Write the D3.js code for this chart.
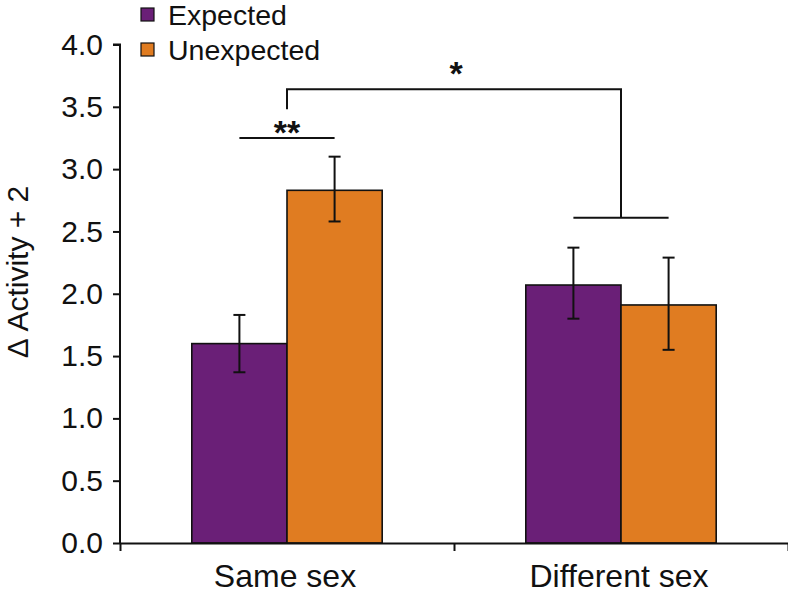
<!DOCTYPE html>
<html>
<head>
<meta charset="utf-8">
<script src="https://cdn.jsdelivr.net/npm/d3@7"></script>
<style>
  html, body { margin: 0; padding: 0; background: #fff; }
  svg { display: block; }
  text { font-family: "Liberation Sans", Arial, Helvetica, sans-serif; fill: #111; }
</style>
</head>
<body>
<svg id="chart" width="788" height="593"></svg>
<script>
// ---- data ----
const categories = ["Same sex", "Different sex"];
const series = ["Expected", "Unexpected"];
const expectedValues = [1.60, 2.07];
const unexpectedValues = [2.83, 1.91];
const expectedErrLow = [1.37, 1.80];
const expectedErrHigh = [1.83, 2.37];
const unexpectedErrLow = [2.58, 1.55];
const unexpectedErrHigh = [3.10, 2.29];
const yTicks = [0, 0.5, 1.0, 1.5, 2.0, 2.5, 3.0, 3.5, 4.0];
const yLabel = "\u0394 Activity + 2";
// significance brackets (data units)
const sigPairLevel = 3.25;     // ** line
const sigGroupLevel = 2.61;    // line over Different sex pair
const sigTopLevel = 3.64;      // * bracket top
const sigTopLeftEnd = 3.48;

const colors = { Expected: "#6a1f77", Unexpected: "#e07c21" };

const svg = d3.select("#chart");
const mLeft = 120, mRight = 788, mTop = 44.5, mBottom = 543;

const y = d3.scaleLinear().domain([0, 4]).range([mBottom, mTop]);
const x0 = d3.scaleBand().domain(categories).range([mLeft, mRight]).padding(0);
const x1 = d3.scaleBand().domain(series)
  .range([x0.bandwidth() * 0.215, x0.bandwidth() * 0.785]).padding(0);

const rows = categories.map((c, i) => ({
  cat: c,
  vals: [
    { s: "Expected", v: expectedValues[i], lo: expectedErrLow[i], hi: expectedErrHigh[i] },
    { s: "Unexpected", v: unexpectedValues[i], lo: unexpectedErrLow[i], hi: unexpectedErrHigh[i] }
  ]
}));

// bars
const g = svg.selectAll("g.grp").data(rows).enter().append("g")
  .attr("transform", d => `translate(${x0(d.cat)},0)`);
g.selectAll("rect").data(d => d.vals).enter().append("rect")
  .attr("x", d => x1(d.s))
  .attr("width", x1.bandwidth())
  .attr("y", d => y(d.v))
  .attr("height", d => y(0) - y(d.v))
  .attr("fill", d => colors[d.s])
  .attr("stroke", "#111")
  .attr("stroke-width", 1.6);

// error bars
const eb = g.selectAll("g.err").data(d => d.vals).enter().append("g")
  .attr("stroke", "#111").attr("stroke-width", 2);
eb.append("line")
  .attr("x1", d => x1(d.s) + x1.bandwidth() / 2)
  .attr("x2", d => x1(d.s) + x1.bandwidth() / 2)
  .attr("y1", d => y(d.lo)).attr("y2", d => y(d.hi));
eb.append("line")
  .attr("x1", d => x1(d.s) + x1.bandwidth() / 2 - 6)
  .attr("x2", d => x1(d.s) + x1.bandwidth() / 2 + 6)
  .attr("y1", d => y(d.hi)).attr("y2", d => y(d.hi));
eb.append("line")
  .attr("x1", d => x1(d.s) + x1.bandwidth() / 2 - 6)
  .attr("x2", d => x1(d.s) + x1.bandwidth() / 2 + 6)
  .attr("y1", d => y(d.lo)).attr("y2", d => y(d.lo));

// y axis
const yAxis = d3.axisLeft(y).tickValues(yTicks).tickFormat(d3.format(".1f")).tickSize(7).tickPadding(10);
const ya = svg.append("g").attr("transform", `translate(${mLeft},0)`).call(yAxis);
ya.select(".domain").attr("stroke", "#111").attr("stroke-width", 2).attr("d", `M-7,${mTop}H0V${mBottom}`);
ya.selectAll(".tick line").attr("stroke", "#111").attr("stroke-width", 2);
ya.selectAll(".tick text").attr("font-size", 30).attr("fill", "#111")
  .style("font-family", '"Liberation Sans", Arial, sans-serif');

// x axis: ticks at category boundaries
const xb = d3.scaleLinear().domain([0, categories.length]).range([mLeft, mRight]);
const xAxis = d3.axisBottom(xb).tickValues(d3.range(categories.length + 1)).tickFormat("").tickSize(8).tickSizeOuter(0);
const xa = svg.append("g").attr("transform", `translate(0,${mBottom})`).call(xAxis);
xa.select(".domain").attr("stroke", "#111").attr("stroke-width", 2);
xa.selectAll(".tick line").attr("stroke", "#111").attr("stroke-width", 2);

// category labels
svg.selectAll("text.cat").data(categories).enter().append("text")
  .attr("class", "cat")
  .attr("x", d => x0(d) + x0.bandwidth() / 2 - 2)
  .attr("y", 587)
  .attr("text-anchor", "middle")
  .attr("font-size", 32)
  .text(d => d);

// y label
svg.append("text")
  .attr("transform", `translate(28,${272}) rotate(-90)`)
  .attr("text-anchor", "middle")
  .attr("font-size", 30)
  .text(yLabel);

// legend
const lg = svg.selectAll("g.leg").data(series).enter().append("g")
  .attr("transform", (d, i) => `translate(141,${8 + i * 35})`);
lg.append("rect").attr("width", 13).attr("height", 13)
  .attr("fill", d => colors[d]).attr("stroke", "#111").attr("stroke-width", 1.2);
lg.append("text").attr("x", 27).attr("y", 17).attr("font-size", 28.5).text(d => d);

// significance markers
const cSame = x0("Same sex") + x1("Unexpected");
const cDiff = x0("Different sex") + x1("Unexpected");
const sig = svg.append("g").attr("stroke", "#111").attr("stroke-width", 2).attr("fill", "none");
sig.append("line")
  .attr("x1", x0("Same sex") + x1("Expected") + x1.bandwidth() / 2)
  .attr("x2", x0("Same sex") + x1("Unexpected") + x1.bandwidth() / 2)
  .attr("y1", y(sigPairLevel)).attr("y2", y(sigPairLevel));
sig.append("line")
  .attr("x1", x0("Different sex") + x1("Expected") + x1.bandwidth() / 2)
  .attr("x2", x0("Different sex") + x1("Unexpected") + x1.bandwidth() / 2)
  .attr("y1", y(sigGroupLevel)).attr("y2", y(sigGroupLevel));
sig.append("path")
  .attr("d", `M${cSame},${y(sigTopLeftEnd)}V${y(sigTopLevel)}H${cDiff}V${y(sigGroupLevel)}`);

svg.append("text")
  .attr("x", x0("Same sex") + x1("Unexpected")).attr("y", 144)
  .attr("text-anchor", "middle").attr("font-size", 34).attr("font-weight", "bold").text("**");
svg.append("text")
  .attr("x", (cSame + cDiff) / 2 + 2).attr("y", 85)
  .attr("text-anchor", "middle").attr("font-size", 34).attr("font-weight", "bold").text("*");
</script>
</body>
</html>
